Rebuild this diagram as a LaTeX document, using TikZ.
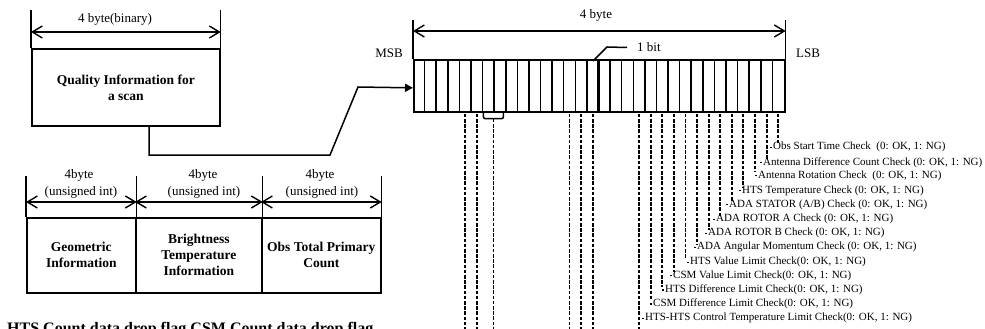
\documentclass[tikz,border=0pt]{standalone}
\usepackage{fontspec}
\setmainfont{Liberation Serif}
\usetikzlibrary{arrows.meta,calc}
\begin{document}
\begin{tikzpicture}[x=1pt,y=-1pt,
  ext/.style={line width=1.5pt},
  rect/.style={draw,line width=1.7pt,inner sep=0pt,anchor=north west},
  dim/.style={line width=1.4pt,{Straight Barb[length=10pt,width=12pt,line width=1.4pt]}-{Straight Barb[length=10pt,width=12pt,line width=1.4pt]}},
  cell/.style={line width=1.5pt},
  bytecell/.style={line width=2.4pt},
  dashline/.style={line width=1.9pt,dash pattern=on 3.6pt off 1.6pt},
  dimtxt/.style={font=\fontsize{13}{15}\selectfont,inner sep=0pt},
  boldtxt/.style={font=\bfseries\fontsize{13.5}{16}\selectfont,align=center},
  lab/.style={font=\fontsize{11}{12}\selectfont,anchor=west,inner sep=0pt}
]
\useasboundingbox (0,0) rectangle (985,329);
\clip (0,0) rectangle (985,329);

% ---------- Quality information box ----------
\node[rect,boldtxt,minimum width=188pt,minimum height=77pt] (qi) at (31,48) {Quality Information for\\a scan};
\draw[ext] (qi.north west) -- ++(0,-38);
\draw[ext] (qi.north east) -- ++(0,-38);
\draw[dim] ($(qi.north west)+(0,-16)$) -- ($(qi.north east)+(0,-16)$);
\node[dimtxt] (qidim) at (115,19) {4 byte(binary)};

% ---------- table ----------
\node[rect,boldtxt,minimum width=109pt,minimum height=75pt] (geo) at (26,217) {Geometric\\Information};
\node[rect,boldtxt,minimum width=126pt,minimum height=75pt] (bt) at (135,217) {Brightness\\Temperature\\Information};
\node[rect,boldtxt,minimum width=119pt,minimum height=75pt] (otp) at (261,217) {Obs Total Primary\\Count};
\foreach \n in {geo.north west,geo.north east,bt.north east,otp.north east}
  \draw[ext] (\n) -- ++(0,-41);
\draw[dim] ($(geo.north west)+(0,-15)$) -- ($(geo.north east)+(0,-15)$);
\draw[dim] ($(bt.north west)+(0,-15)$) -- ($(bt.north east)+(0,-15)$);
\draw[dim] ($(otp.north west)+(0,-15)$) -- ($(otp.north east)+(0,-15)$);
\node[dimtxt] (g1) at (79,175) {4byte};
\node[dimtxt] (g2) at (81,192) {(unsigned int)};
\node[dimtxt] (b1) at (203,175) {4byte};
\node[dimtxt] (b2) at (204,192) {(unsigned int)};
\node[dimtxt] (o1) at (320,175) {4byte};
\node[dimtxt] (o2) at (322,192) {(unsigned int)};

\node[font=\bfseries\fontsize{16}{18}\selectfont,anchor=base west,inner sep=0pt] (flags) at (7,333) {HTS Count data drop flag CSM Count data drop flag};

% ---------- register ----------
\node[draw,line width=1.7pt,minimum width=371pt,minimum height=52pt,inner sep=0pt,anchor=north west] (reg) at (413,59) {};
\foreach \i in {1,...,31}
  \draw[cell] ($(reg.north west)+({\i*11.59375},0)$) -- ($(reg.south west)+({\i*11.59375},0)$);
\foreach \i in {8,16,24}
  \draw[bytecell] ($(reg.north west)+({\i*11.59375},0)$) -- ($(reg.south west)+({\i*11.59375},0)$);
\foreach \i in {0,...,31}
  \coordinate (b\i) at ($(reg.south west)+({(\i+0.5)*11.59375},0)$);

\draw[ext] (reg.north west) -- ++(0,-39);
\draw[ext] (reg.north east) -- ++(0,-39);
\draw[dim] ($(reg.north west)+(0,-28)$) -- ($(reg.north east)+(0,-28)$);
\node[dimtxt] (rdim) at (596,15) {4 byte};
\node[dimtxt] (msb) at (389,53) {MSB};
\node[dimtxt] (lsb) at (808,53) {LSB};
\node[dimtxt,anchor=west] (onebit) at (637,47.5) {1 bit};
\coordinate (bitpt) at (593,61);
\draw[ext] (bitpt) -- (607,47) -- ([xshift=-10pt]onebit.west);

% connector from quality box to register
\coordinate (qout) at (149,125);
\draw[ext,-{Triangle[length=8pt,width=8pt]}] (qout) |- (330,155) -- (358,87) -- ([yshift=-2pt]reg.west);

% brace under bits 6-7
\draw[ext,rounded corners=2pt] ($(b6)+(-5,0)$) -- ++(0,6) -- ($(b7)+(3.5,6)$) -- ($(b7)+(3.5,0)$);
\coordinate (br) at ($(b6)+(5.1,6)$);
\draw[dashline] (br) -- ++(0,230);

\foreach \i in {4,5,13,14,15}
  \draw[dashline] ($(b\i)+(0,1)$) -- ++(0,230);

% labelled check bits
\foreach \i/\yy/\xl/\t in {
  31/147.3/773/{Obs Start Time Check~ (0: OK, 1: NG)},
  30/162.3/763/{Antenna Difference Count Check (0: OK, 1: NG)},
  29/175.7/758/{Antenna Rotation Check~ (0: OK, 1: NG)},
  28/190.7/742/{HTS Temperature Check (0: OK, 1: NG)},
  27/204.7/729/{ADA STATOR (A/B) Check (0: OK, 1: NG)},
  26/219.3/716/{ADA ROTOR A Check (0: OK, 1: NG)},
  25/233.3/708/{ADA ROTOR B Check (0: OK, 1: NG)},
  24/247.3/697/{ADA Angular Momentum Check (0: OK, 1: NG)},
  23/262.3/690/{HTS Value Limit Check(0: OK, 1: NG)},
  22/275.7/673/{CSM Value Limit Check(0: OK, 1: NG)},
  21/290.0/665/{HTS Difference Limit Check(0: OK, 1: NG)},
  20/304.0/653/{CSM Difference Limit Check(0: OK, 1: NG)}} {
  \node[lab] (l\i) at (\xl,\yy) {\t};
  \draw[dashline] ($(b\i)+(0,1)$) -- ++(0,{\yy-111-6});
  \draw[line width=1.3pt] ([xshift=-3pt]l\i.west) -- ([xshift=-1.2pt]l\i.west);
}
\node[lab] (l19) at (645,318.3) {HTS-HTS Control Temperature Limit Check(0: OK, 1: NG)};
\draw[line width=1.3pt] ([xshift=-3pt]l19.west) -- ([xshift=-1.2pt]l19.west);
\draw[dashline] ($(b19)+(0,1)$) -- ++(0,230);
\end{tikzpicture}
\end{document}
